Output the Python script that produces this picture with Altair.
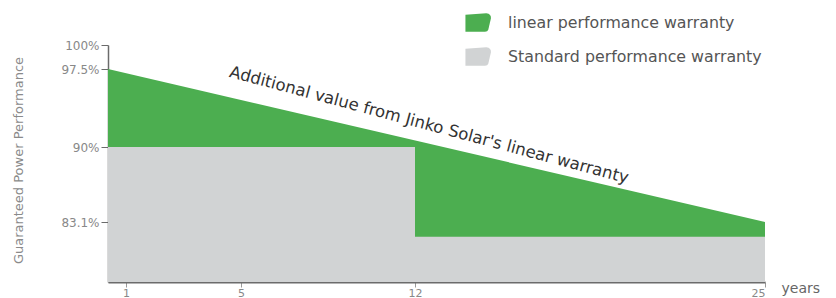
import altair as alt
import pandas as pd

# ---- data ----
series_names = ["linear performance warranty", "Standard performance warranty"]
series_colors = ["#4cae50", "#d1d3d4"]

linear_years = [0.35, 25]
linear_perf = [97.5, 83.1]

std_years = [0.35, 12, 25]
std_perf = [90, 81.7, 81.7]

x_ticks = [1, 5, 12, 25]
y_ticks = [83.1, 90, 97.5, 100]

annotation = "Additional value from Jinko Solar's linear warranty"
ann_year = 12.52
ann_perf = 92.1

Y_MIN = 77.4
X_MIN = 0.35

FONT = "DejaVu Sans"

lin_df = pd.DataFrame({"year": linear_years, "perf": linear_perf, "series": series_names[0]})
std_df = pd.DataFrame({"year": std_years, "perf": std_perf, "series": series_names[1]})
ann_df = pd.DataFrame({"year": [ann_year], "perf": [ann_perf], "label": [annotation]})

W, H = 657, 237

xscale = alt.Scale(domain=[X_MIN, 1, 5, 12, 25], range=[0, 18, 133, 307, W], zero=False)
yscale = alt.Scale(domain=[Y_MIN, 83.1, 90, 97.5, 100], range=[H, 177, 102, 24, 0], zero=False)

color = alt.Color(
    "series:N",
    scale=alt.Scale(domain=series_names, range=series_colors),
    legend=alt.Legend(
        title=None,
        orient="none",
        legendX=357,
        legendY=-36,
        symbolType="M-1,-0.6 L0.6,-0.7 Q1,-0.65 0.95,-0.3 L0.75,0.55 Q0.7,0.7 0.5,0.7 L-1,0.7 Z",
        symbolSize=680,
        symbolStrokeWidth=0,
        symbolOpacity=1,
        labelFont=FONT,
        labelFontSize=15.8,
        labelColor="#555555",
        labelOffset=16,
        labelLimit=0,
        rowPadding=11,
    ),
)

x_enc = alt.X(
    "year:Q",
    scale=xscale,
    axis=alt.Axis(
        values=x_ticks,
        title="years",
        titleFont=FONT,
        titleFontSize=14,
        titleFontWeight="normal",
        titleColor="#666666",
        titleX=673,
        titleY=6,
        titleAlign="left",
        titleBaseline="middle",
        domainColor="#6b6b6b",
        domainWidth=2,
        tickColor="#9a9a9a",
        tickSize=5,
        labelFont=FONT,
        labelFontSize=11,
        labelColor="#888888",
        labelPadding=0,
        grid=False,
    ),
)

y_enc = alt.Y(
    "perf:Q",
    scale=yscale,
    axis=alt.Axis(
        values=y_ticks,
        labelExpr="datum.value + '%'",
        title="Guaranteed Power Performance",
        titleFont=FONT,
        titleFontSize=13,
        titleFontWeight="normal",
        titleColor="#8a8a8a",
        titleX=-90,
        titleY=115,
        titleAngle=270,
        titleAlign="center",
        titleBaseline="middle",
        domainColor="#6b6b6b",
        domainWidth=1.5,
        tickColor="#6b6b6b",
        tickSize=7,
        labelFont=FONT,
        labelFontSize=12,
        labelColor="#888888",
        labelPadding=2,
        grid=False,
    ),
)

green = alt.Chart(lin_df).mark_area(opacity=1).encode(
    x=x_enc, y=y_enc, y2=alt.datum(Y_MIN), color=color
)

grey = alt.Chart(std_df).mark_area(opacity=1, interpolate="step-after").encode(
    x=alt.X("year:Q", scale=xscale), y=alt.Y("perf:Q", scale=yscale), y2=alt.datum(Y_MIN), color=color
)

text = alt.Chart(ann_df).mark_text(
    font=FONT, fontSize=16.5, color="#333333", angle=15, align="center", baseline="middle"
).encode(
    x=alt.X("year:Q", scale=xscale), y=alt.Y("perf:Q", scale=yscale), text="label:N"
)

chart = (
    alt.layer(green, grey, text)
    .properties(
        width=W,
        height=H,
        background="white",
        autosize=alt.AutoSizeParams(type="none"),
        padding={"left": 100, "top": 37, "right": 63, "bottom": 24},
    )
    .configure_view(strokeWidth=0, stroke="transparent")
    .configure_axis(grid=False)
)

chart.save("out.html", embed_options={"renderer": "svg", "actions": False})
